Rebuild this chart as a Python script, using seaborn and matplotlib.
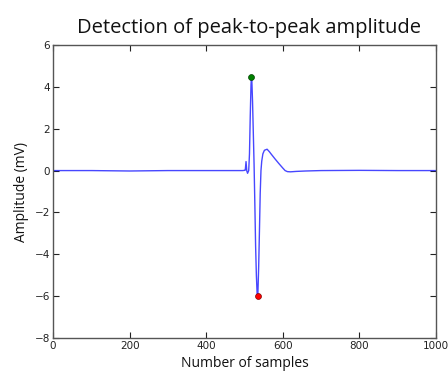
import matplotlib
matplotlib.use("Agg")
import matplotlib.pyplot as plt
import seaborn as sns
import pandas as pd

# Waveform key samples (sample index, amplitude in mV)
samples = [0, 100, 200, 300, 400, 495, 500, 502, 504, 506, 508, 511, 513, 515, 517, 518,
           519, 521, 523, 525, 527, 529, 531, 533, 534, 535, 537, 539, 541, 543, 545, 548,
           552, 559, 565, 570, 580, 590, 600, 606, 612, 620, 635, 660, 700, 800, 900, 1000]
amplitude = [0.0, 0.0, -0.02, 0.0, 0.0, 0.0, 0.01, 0.02, 0.43, -0.02, -0.13, 0.0, 0.8, 2.6, 4.1, 4.45,
             4.4, 3.3, 1.8, 0.3, -1.6, -3.6, -5.0, -5.9, -6.0, -5.85, -4.6, -2.9, -1.1, 0.0, 0.45, 0.8,
             0.97, 1.02, 0.9, 0.78, 0.55, 0.33, 0.12, 0.0, -0.05, -0.06, -0.04, -0.02, 0.0, 0.01, 0.0, 0.0]

peak_x = [518]
peak_y = [4.45]
trough_x = [534]
trough_y = [-6.0]

xticks = [0, 200, 400, 600, 800, 1000]
yticks = [-8, -6, -4, -2, 0, 2, 4, 6]

sns.set_style("white")
plt.rcParams['font.family'] = ['DejaVu Sans']

fig = plt.figure(figsize=(4.48, 3.76), dpi=100)
ax = fig.add_axes([53/448, 38/376, 383/448, 293/376])

df = pd.DataFrame({"x": samples, "y": amplitude})
sns.lineplot(data=df, x="x", y="y", ax=ax, color="#0000ff", linewidth=1.0, alpha=0.72)
sns.scatterplot(x=peak_x, y=peak_y, ax=ax, color="#008000", s=18, edgecolor="#004000", linewidth=0.5, zorder=5)
sns.scatterplot(x=trough_x, y=trough_y, ax=ax, color="#ff0000", s=18, edgecolor="#800000", linewidth=0.5, zorder=5)

ax.set_xlim(0, 1000)
ax.set_ylim(-8, 6)
ax.set_xticks(xticks)
ax.set_yticks(yticks)
ax.set_xticklabels([str(t) for t in xticks])
ax.set_yticklabels([("\u2212" + str(-t)) if t < 0 else str(t) for t in yticks])
ax.tick_params(direction="in", length=4, width=0.8, labelsize=7.5, colors="#222222",
               top=True, right=True, bottom=True, left=True, pad=2)
for s in ax.spines.values():
    s.set_color("#555555")
    s.set_linewidth(1.0)

ax.set_title("Detection of peak-to-peak amplitude", fontsize=14.5, family="Open Sans",
             color="#111111", pad=9, x=0.513)
ax.set_xlabel("Number of samples", fontsize=10, family="Open Sans", color="#111111", labelpad=4)
ax.set_ylabel("Amplitude (mV)", fontsize=10, family="Open Sans", color="#111111", labelpad=4)

fig.savefig("out.png", dpi=100)
